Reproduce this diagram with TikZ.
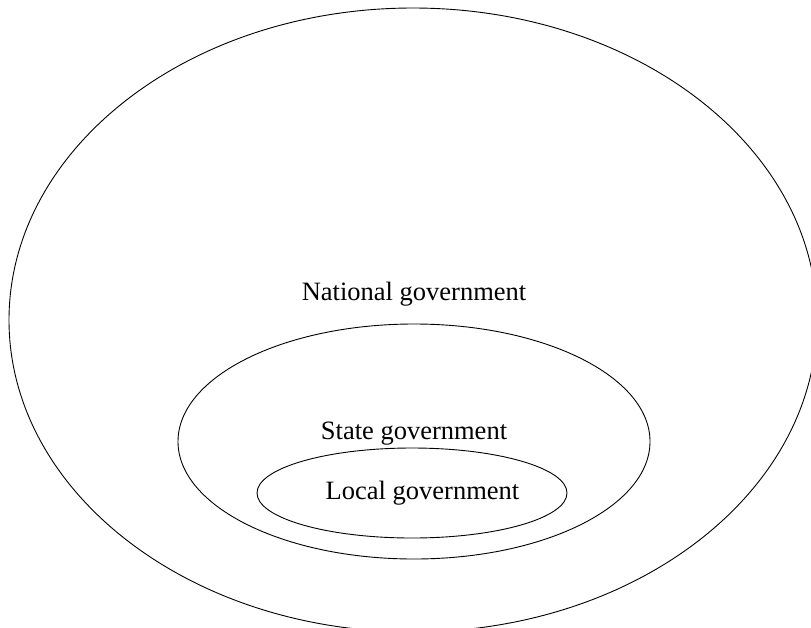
\documentclass[tikz,border=0pt]{standalone}
\usepackage{fontspec}
\setmainfont{Liberation Serif}
\begin{document}
\begin{tikzpicture}[x=1pt,y=-1pt,
  ring/.style={draw=black,line width=0.9pt},
  lbl/.style={font=\fontsize{26.5}{30}\selectfont,inner sep=0pt}]
\useasboundingbox (0,0) rectangle (811,627);
\clip (0,0) rectangle (811,627);
\draw[ring] (413,320) ellipse [x radius=404, y radius=312];
\draw[ring] (414,441.5) ellipse [x radius=236, y radius=117.5];
\draw[ring] (412,493) ellipse [x radius=155, y radius=45];
\node[lbl] (nat) at (414,294) {National government};
\node[lbl] (sta) at (414,434) {State government};
\node[lbl] (loc) at (422.5,493) {Local government};
\end{tikzpicture}
\end{document}
